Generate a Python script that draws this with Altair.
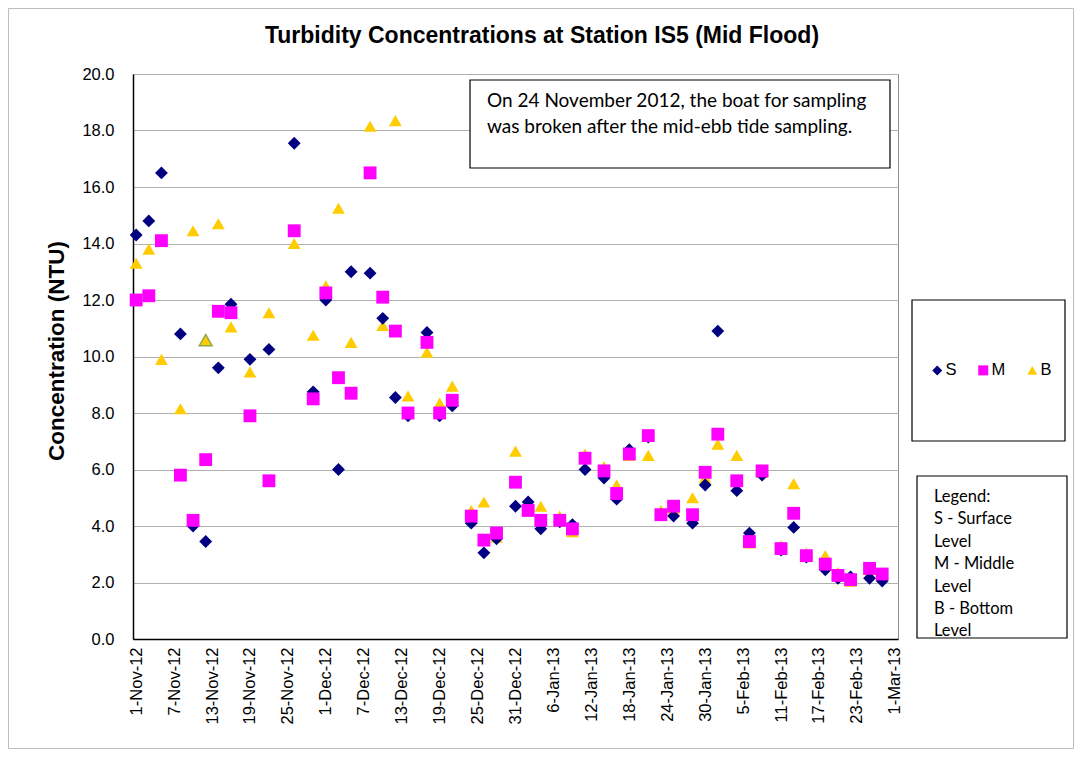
import altair as alt
import pandas as pd

# ---------------- data ----------------
title_text = "Turbidity Concentrations at Station IS5 (Mid Flood)"
y_title = "Concentration (NTU)"
note_lines = ["On 24 November 2012, the boat for sampling",
              "was broken after the mid-ebb tide sampling."]
key_lines = ["Legend:", "S - Surface", "Level", "M - Middle", "Level", "B - Bottom", "Level"]

levels = ["S", "M", "B"]
level_colors = ["#000080", "#FF00FF", "#FFCC00"]
level_shapes = ["diamond", "square", "triangle-up"]

tick_labels = ["1-Nov-12", "7-Nov-12", "13-Nov-12", "19-Nov-12", "25-Nov-12",
               "1-Dec-12", "7-Dec-12", "13-Dec-12", "19-Dec-12", "25-Dec-12",
               "31-Dec-12", "6-Jan-13", "12-Jan-13", "18-Jan-13", "24-Jan-13",
               "30-Jan-13", "5-Feb-13", "11-Feb-13", "17-Feb-13", "23-Feb-13",
               "1-Mar-13"]
y_ticks = [0, 2, 4, 6, 8, 10, 12, 14, 16, 18, 20]

dates = ["2012-11-01", "2012-11-03", "2012-11-05", "2012-11-08", "2012-11-10",
         "2012-11-12", "2012-11-14", "2012-11-16", "2012-11-19", "2012-11-22",
         "2012-11-26", "2012-11-29", "2012-12-01", "2012-12-03", "2012-12-05",
         "2012-12-08", "2012-12-10", "2012-12-12", "2012-12-14", "2012-12-17",
         "2012-12-19", "2012-12-21", "2012-12-24", "2012-12-26", "2012-12-28",
         "2012-12-31", "2013-01-02", "2013-01-04", "2013-01-07", "2013-01-09",
         "2013-01-11", "2013-01-14", "2013-01-16", "2013-01-18", "2013-01-21",
         "2013-01-23", "2013-01-25", "2013-01-28", "2013-01-30", "2013-02-01",
         "2013-02-04", "2013-02-06", "2013-02-08", "2013-02-11", "2013-02-13",
         "2013-02-15", "2013-02-18", "2013-02-20", "2013-02-22", "2013-02-25",
         "2013-02-27"]

surface = [14.3, 14.8, 16.5, 10.8, 4.0, 3.45, 9.6, 11.85, 9.9, 10.25,
           17.55, 8.75, 12.0, 6.0, 13.0, 12.95, 11.35, 8.55, 7.9, 10.85,
           7.9, 8.25, 4.1, 3.05, 3.55, 4.7, 4.85, 3.9, 4.15, 4.05,
           6.0, 5.7, 4.95, 6.7, 7.15, 4.4, 4.35, 4.1, 5.45, 10.9,
           5.25, 3.75, 5.8, 3.15, 3.95, 2.9, 2.45, 2.15, 2.2, 2.15,
           2.05]
middle = [12.0, 12.15, 14.1, 5.8, 4.2, 6.35, 11.6, 11.55, 7.9, 5.6,
          14.45, 8.5, 12.25, 9.25, 8.7, 16.5, 12.1, 10.9, 8.0, 10.5,
          8.0, 8.45, 4.35, 3.5, 3.75, 5.55, 4.55, 4.2, 4.2, 3.9,
          6.4, 5.95, 5.15, 6.55, 7.2, 4.4, 4.7, 4.4, 5.9, 7.25,
          5.6, 3.45, 5.95, 3.2, 4.45, 2.95, 2.65, 2.25, 2.1, 2.5,
          2.3]
bottom = [13.3, 13.8, 9.9, 8.15, 14.45, 10.58, 14.7, 11.05, 9.45, 11.55,
          14.0, 10.75, 12.5, 15.25, 10.5, 18.15, 11.1, 18.35, 8.6, 10.15,
          8.35, 8.95, 4.55, 4.85, 3.6, 6.65, 4.6, 4.7, 4.35, 3.8,
          6.55, 6.1, 5.45, 6.5, 6.5, 4.55, 4.6, 5.0, 5.7, 6.9,
          6.5, 3.4, 5.9, 3.3, 5.5, 3.05, 2.95, 2.35, 2.05, 2.45,
          2.25]

# ---------------- tables ----------------
start = pd.Timestamp("2012-11-01")
days = [int(d) for d in (pd.to_datetime(dates) - start).days]
rows = []
# drawing order: B first, then S, then M on top
for lvl, vals in (("B", bottom), ("S", surface), ("M", middle)):
    for d, v in zip(days, vals):
        rows.append({"day": d, "level": lvl, "value": v})
df = pd.DataFrame(rows)

tick_days = [int(d) for d in (pd.to_datetime(tick_labels, format="%d-%b-%y") - start).days]
label_expr = "{" + ",".join(f"'{d}':'{t}'" for d, t in zip(tick_days, tick_labels)) + "}[''+datum.value]"

FONT = "Liberation Sans"
W, H = 765, 565
one = pd.DataFrame({"k": [0]})

# ---------------- layers ----------------
frame = alt.Chart(one).mark_rect(fillOpacity=0, stroke="#bdbdbd", strokeWidth=1).encode(
    x=alt.value(-124.5), x2=alt.value(940.5), y=alt.value(-65.5), y2=alt.value(674.5))

title = alt.Chart(one).mark_text(text=title_text, font=FONT, fontSize=23, fontWeight="bold",
                                 align="center", baseline="middle", color="black").encode(
    x=alt.value(409), y=alt.value(-38))

ytitle = alt.Chart(one).mark_text(text=y_title, font=FONT, fontSize=22.5, fontWeight="bold",
                                  align="center", baseline="middle", angle=270, color="black").encode(
    x=alt.value(-76), y=alt.value(277))

points = alt.Chart(df).mark_point(filled=True, opacity=1, size=165).encode(
    x=alt.X("day:Q",
            scale=alt.Scale(domain=[-0.5, 120.5], nice=False, zero=False),
            axis=alt.Axis(values=tick_days, labelExpr=label_expr, labelAngle=270,
                          labelAlign="right", labelBaseline="middle", labelPadding=8,
                          ticks=False, grid=False, title=None, labelFont=FONT,
                          labelFontSize=16.5, labelColor="black", domainColor="black",
                          domainWidth=1.5, labelOverlap=False)),
    y=alt.Y("value:Q",
            scale=alt.Scale(domain=[0, 20], nice=False, zero=True),
            axis=alt.Axis(values=y_ticks, format=".1f", ticks=False, labelPadding=19,
                          title=None, labelFont=FONT, labelFontSize=16.5, labelColor="black",
                          domainColor="black", domainWidth=1.5, gridColor="#b0b0b0",
                          gridWidth=1)),
    color=alt.Color("level:N", scale=alt.Scale(domain=levels, range=level_colors),
                    legend=alt.Legend(title=None, orient="none", legendX=796, legendY=288,
                                      direction="horizontal", columns=3, symbolSize=100,
                                      labelFont=FONT, labelFontSize=16.5, labelColor="black",
                                      columnPadding=18, labelOffset=0, padding=0,
                                      symbolStrokeWidth=0, symbolOpacity=1)),
    shape=alt.Shape("level:N", scale=alt.Scale(domain=levels, range=level_shapes)),
    stroke=alt.value("#8fa84f"),
    strokeWidth=alt.condition("datum.level == 'B' && datum.day == 11", alt.value(1.5), alt.value(0)),
)

note_box = alt.Chart(one).mark_rect(fill="white", stroke="black", strokeWidth=1.2).encode(
    x=alt.value(337), x2=alt.value(757), y=alt.value(6), y2=alt.value(94))
note_text = alt.Chart(one).mark_text(text=note_lines, font="Lato", fontSize=19, lineHeight=26,
                                     align="left", baseline="middle", color="black").encode(
    x=alt.value(354), y=alt.value(27))

legend_box = alt.Chart(one).mark_rect(fill="white", stroke="black", strokeWidth=1.2).encode(
    x=alt.value(779), x2=alt.value(932), y=alt.value(226), y2=alt.value(367))

key_text = alt.Chart(one).mark_text(text=key_lines, font="Lato", fontSize=16.5, lineHeight=22.4,
                                    align="left", baseline="middle", color="black").encode(
    x=alt.value(801), y=alt.value(423))
key_cover = alt.Chart(one).mark_rect(fill="white").encode(
    x=alt.value(782), x2=alt.value(936), y=alt.value(564), y2=alt.value(580))
key_box = alt.Chart(one).mark_rect(fillOpacity=0, stroke="black", strokeWidth=1.2).encode(
    x=alt.value(784), x2=alt.value(934), y=alt.value(402), y2=alt.value(564))

chart = alt.layer(
    frame, title, ytitle, legend_box, points, note_box, note_text, key_text, key_cover, key_box
).properties(
    width=W, height=H,
    padding={"left": 125, "top": 66, "right": 176, "bottom": 110},
    autosize=alt.AutoSizeParams(type="none"),
    background="white",
).configure_view(stroke="#8c8c8c", strokeWidth=1)

chart.save("out.html", embed_options={"renderer": "svg", "actions": False})
